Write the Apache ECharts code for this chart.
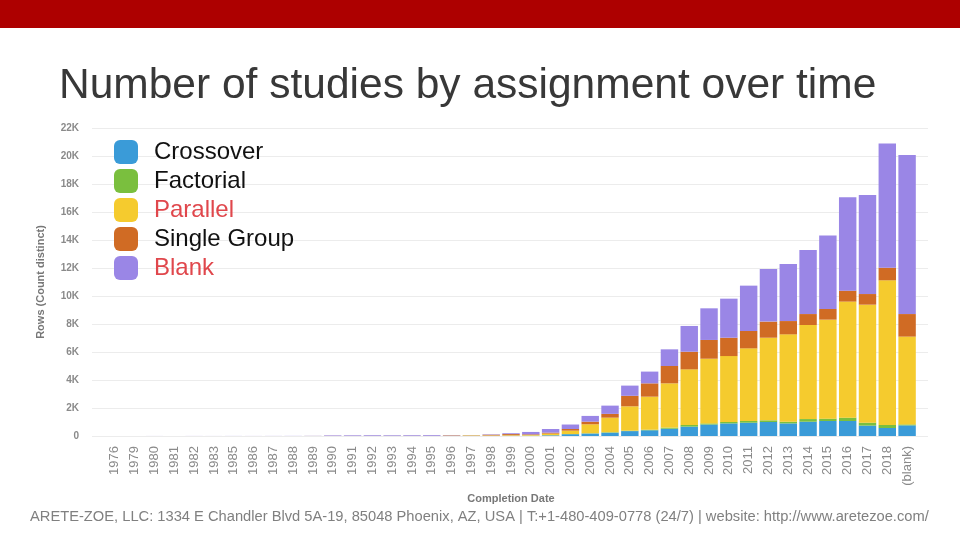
<!DOCTYPE html>
<html>
<head>
<meta charset="utf-8">
<script src="https://cdn.jsdelivr.net/npm/echarts@6/dist/echarts.min.js"></script>
<style>
  html, body { margin: 0; padding: 0; background: #fff; }
  #chart { width: 960px; height: 540px; }
</style>
</head>
<body>
<div id="chart"></div>
<script>
// completion years as shown on the x axis
const years = ['1976', '1979', '1980', '1981', '1982', '1983', '1985', '1986', '1987', '1988', '1989',
  '1990', '1991', '1992', '1993', '1994', '1995', '1996', '1997', '1998', '1999',
  '2000', '2001', '2002', '2003', '2004', '2005', '2006', '2007', '2008', '2009',
  '2010', '2011', '2012', '2013', '2014', '2015', '2016', '2017', '2018', '(blank)'];

// counts per assignment type
const crossover = [0, 0, 0, 0, 0, 0, 0, 0, 0, 0, 1,
  2, 2, 3, 3, 3, 4, 5, 8, 10, 15,
  20, 50, 130, 180, 240, 350, 410, 520, 670, 820,
  900, 950, 1000, 900, 1020, 1070, 1070, 740, 570, 760];
const factorial = [0, 0, 0, 0, 0, 0, 0, 0, 0, 0, 0,
  0, 0, 0, 0, 0, 0, 1, 1, 2, 2,
  5, 5, 10, 15, 30, 30, 40, 80, 120, 80,
  100, 120, 120, 120, 190, 170, 240, 210, 220, 70];
const parallel = [0, 0, 1, 0, 1, 1, 1, 1, 2, 2, 3,
  4, 4, 5, 5, 6, 6, 15, 40, 30, 40,
  45, 115, 240, 640, 1040, 1740, 2360, 3160, 3970, 4620,
  4710, 5190, 5900, 6240, 6720, 7070, 8290, 8430, 10330, 6270];
const singleGroup = [0, 0, 0, 1, 0, 1, 1, 1, 1, 2, 2,
  4, 4, 5, 5, 5, 6, 30, 10, 50, 80,
  50, 70, 120, 190, 270, 750, 950, 1240, 1260, 1340,
  1310, 1240, 1150, 950, 780, 760, 780, 760, 900, 1610];
const blank = [2, 1, 3, 2, 4, 3, 5, 4, 6, 8, 12,
  40, 45, 50, 45, 50, 55, 20, 10, 30, 60,
  170, 260, 320, 410, 590, 730, 840, 1190, 1840, 2260,
  2790, 3240, 3760, 4080, 4580, 5260, 6670, 7070, 8880, 11360];

const seriesNames = ['Crossover', 'Factorial', 'Parallel', 'Single Group', 'Blank'];
const seriesData = [crossover, factorial, parallel, singleGroup, blank];
const colors = ['#3a9bd8', '#7abf3e', '#f5cb2e', '#d06b24', '#9a86e6'];
const legendColors = ['#111', '#111', '#e0474c', '#111', '#e0474c'];

const FONT = '"Liberation Sans", Arial, sans-serif';

const chart = echarts.init(document.getElementById('chart'));

const option = {
  backgroundColor: '#fff',
  animation: false,
  color: colors,
  textStyle: { fontFamily: FONT },
  graphic: [
    { type: 'rect', shape: { x: 0, y: 0, width: 960, height: 28 }, style: { fill: '#ad0000' } },
    {
      type: 'text', left: 59, top: 65,
      style: { text: 'Number of studies by assignment over time', fill: '#383838', font: '42.5px ' + FONT }
    },
    {
      type: 'text', left: 30, top: 509,
      style: {
        text: 'ARETE-ZOE, LLC: 1334 E Chandler Blvd 5A-19, 85048 Phoenix, AZ, USA | T:+1-480-409-0778 (24/7) | website: http://www.aretezoe.com/',
        fill: '#808080', font: '14.7px ' + FONT
      }
    }
  ],
  legend: {
    orient: 'vertical',
    left: 114,
    top: 140,
    padding: 0,
    itemWidth: 24,
    itemHeight: 24,
    itemGap: 5,
    icon: 'roundRect',
    textStyle: { fontSize: 24, fontFamily: FONT, padding: [0, 0, 0, 11] },
    data: seriesNames.map((n, i) => ({ name: n, textStyle: { color: legendColors[i] } }))
  },
  grid: [
    { left: 105, right: 43, top: 128, bottom: 104 },
    { left: 92, right: 32, top: 128, bottom: 104 }
  ],
  xAxis: [
    {
      type: 'category',
      gridIndex: 0,
      data: years,
      name: 'Completion Date',
      nameLocation: 'middle',
      nameGap: 52,
      nameTextStyle: { color: '#777', fontSize: 11, fontWeight: 'bold' },
      axisLine: { show: false },
      axisTick: { show: false },
      axisLabel: { rotate: 90, interval: 0, color: '#8a8a8a', fontSize: 13, margin: 10 }
    },
    { type: 'value', gridIndex: 1, show: false, min: 0, max: 1 }
  ],
  yAxis: [
    {
      type: 'value',
      gridIndex: 0,
      min: 0, max: 22000, interval: 2000,
      axisLabel: { show: false },
      splitLine: { show: false },
      axisLine: { show: false },
      axisTick: { show: false }
    },
    {
      type: 'value',
      gridIndex: 1,
      min: 0, max: 22000, interval: 2000,
      name: 'Rows (Count distinct)',
      nameLocation: 'middle',
      nameGap: 46,
      nameTextStyle: { color: '#777', fontSize: 11, fontWeight: 'bold' },
      axisLine: { show: false },
      axisTick: { show: false },
      axisLabel: {
        color: '#8a8a8a', fontSize: 10, fontWeight: 'bold', margin: 13,
        formatter: v => (v === 0 ? '0' : v / 1000 + 'K')
      },
      splitLine: { lineStyle: { color: '#ececec' } }
    }
  ],
  series: seriesNames.map((n, i) => ({
    name: n,
    type: 'bar',
    stack: 'total',
    xAxisIndex: 0,
    yAxisIndex: 0,
    barCategoryGap: '12%',
    data: seriesData[i]
  }))
};

chart.setOption(option);
</script>
</body>
</html>
